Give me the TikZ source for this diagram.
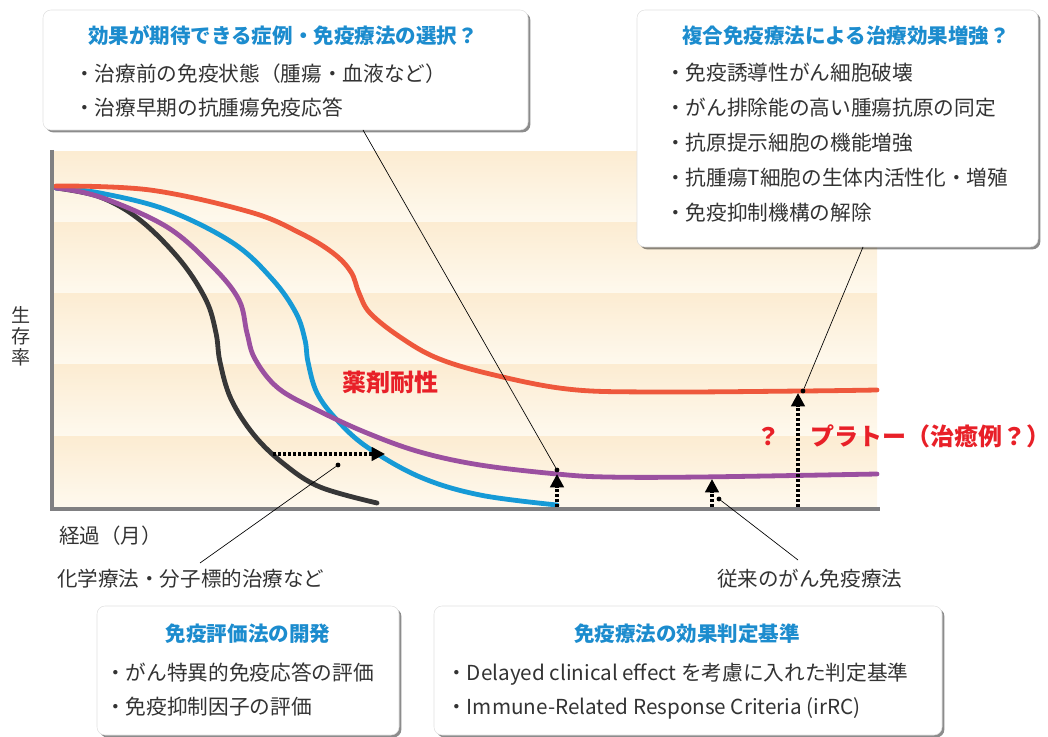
\documentclass[tikz,border=0pt]{standalone}
\usepackage{fontspec}
\setmainfont{Noto Sans CJK JP}
\usetikzlibrary{arrows.meta,shadows}
\definecolor{bandtop}{RGB}{252,236,210}
\definecolor{bandbot}{RGB}{254,249,238}
\definecolor{axisgray}{RGB}{128,128,130}
\definecolor{cred}{RGB}{238,88,60}
\definecolor{cblue}{RGB}{22,154,214}
\definecolor{cpurple}{RGB}{155,80,160}
\definecolor{cblack}{RGB}{55,55,55}
\definecolor{titleblue}{RGB}{28,140,206}
\definecolor{txtred}{RGB}{232,32,40}
\definecolor{txtgray}{RGB}{51,51,51}
\tikzset{
  infobox/.style={draw=black!12, line width=0.4pt, fill=white, rounded corners=6pt,
    drop shadow={shadow xshift=1.8pt, shadow yshift=-1.8pt, fill=black, opacity=0.45},
    inner sep=0pt},
  boxtitle/.style={font=\fontsize{15.4}{18}\selectfont\bfseries, text=titleblue, anchor=base, inner sep=0pt},
  bullet/.style={font=\fontsize{15.5}{18}\selectfont, text=txtgray, anchor=base west, inner sep=0pt},
  plain/.style={font=\fontsize{15.4}{18}\selectfont, text=txtgray, anchor=base west, inner sep=0pt},
  redlabel/.style={font=\fontsize{18}{20}\selectfont\bfseries, text=txtred, inner sep=0pt},
  band/.style={top color=bandtop, bottom color=bandbot, draw=none},
  curve/.style={line width=3.6pt, line cap=round, line join=round},
  axis/.style={line width=3pt, draw=axisgray},
  darrow/.style={line width=2.4pt, dash pattern=on 2.3pt off 1.5pt, -{Triangle[width=10pt,length=10pt]}},
  leader/.style={line width=0.5pt, draw=black},
  dot/.style={circle, fill=black, inner sep=0pt, minimum size=3.6pt}
}
\begin{document}
\begin{tikzpicture}[x=0.75pt,y=-0.75pt]
\useasboundingbox (0,0) rectangle (1048,737);
% background bands
\foreach \ya/\yb in {152/223, 223/294, 294/365, 365/436, 436/508}
  \shade[band] (54,\ya) rectangle (877,\yb);
% curves
\draw[curve, cblack] plot[smooth, tension=0.6] coordinates {(56,188) (100,197) (140,220) (180,260) (206,300) (216,333) (220,362) (231,399) (254,435) (284,464) (320,487) (377,503)};
\draw[curve, cblue] plot[smooth, tension=0.6] coordinates {(56,188) (100,193) (167,210) (233,243) (273,280) (296,313) (305,340) (308,362) (317,393) (337,420) (367,447) (420,477) (480,495) (557,505)};
\draw[curve, cpurple] plot[smooth, tension=0.6] coordinates {(56,188) (100,197) (167,227) (213,267) (239,300) (247,333) (255,359) (278,388) (317,410) (367,433) (420,452) (480,465) (557,474) (607,477) (700,477) (877,474)};
\draw[curve, cred] plot[smooth, tension=0.6] coordinates {(56,186) (150,190) (250,212) (300,233) (333,253) (351,272) (359,293) (370,313) (400,337) (437,358) (490,374) (567,389) (650,392) (803,391) (877,390)};
% axes
\draw[axis] (52,150) -- (52,510.5);
\draw[axis] (50.5,509) -- (880,509);
% labels on axes
\node[font=\fontsize{14.3}{15.8}\selectfont, text=txtgray, align=center, inner sep=0pt] (ylab) at (21,336) {生\\存\\率};
\node[plain] (xlab) at (59,543) {経過（月）};
\node[plain] (chemo) at (57,586) {化学療法・分子標的治療など};
\node[plain] (conv) at (717,586) {従来のがん免疫療法};
% red labels
\node[redlabel, anchor=base] (resist) at (390,392) {薬剤耐性};
\node[redlabel, anchor=base] (qmark) at (768,445) {？};
\node[redlabel, anchor=base west] (plateau) at (810,445) {プラトー（治癒例？）};
% dotted arrows
\coordinate (h0) at (273,454);
\coordinate (h1) at (385,454);
\draw[darrow] (h0) -- (h1);
\coordinate (v1a) at (557,507);
\coordinate (v1b) at (557,474);
\draw[darrow] (v1a) -- (v1b);
\coordinate (v2a) at (712,507);
\coordinate (v2b) at (712,479);
\draw[darrow] (v2a) -- (v2b);
\coordinate (v3a) at (798,507);
\coordinate (v3b) at (798,393);
\draw[darrow] (v3a) -- (v3b);
% dots
\node[dot] (d1) at (338,465) {};
\node[dot] (d2) at (557,470) {};
\node[dot] (d3) at (719,499) {};
\node[dot] (d4) at (803,391) {};
% boxes
\node[infobox, minimum width=363.75pt, minimum height=90pt] (tlbox) at (285.5,70) {};
\node[infobox, minimum width=300.75pt, minimum height=177.75pt] (trbox) at (837.5,128.5) {};
\node[infobox, minimum width=226.5pt, minimum height=96.75pt] (blbox) at (248,670.5) {};
\node[infobox, minimum width=381pt, minimum height=96.75pt] (brbox) at (688,670.5) {};
% leader lines
\coordinate (tlfoot) at (363,130);
\coordinate (trfoot) at (863,247);
\coordinate (chemotop) at (200,563);
\coordinate (convtop) at (798,560);
\draw[leader] (d1) -- (chemotop);
\draw[leader] (d2) -- (tlfoot);
\draw[leader] (d3) -- (convtop);
\draw[leader] (d4) -- (trfoot);
% top-left box text
\node[boxtitle] (tlt) at (283,44) {効果が期待できる症例・免疫療法の選択？};
\node[bullet] (tl1) at (74,82) {・治療前の免疫状態（腫瘍・血液など）};
\node[bullet] (tl2) at (74,116) {・治療早期の抗腫瘍免疫応答};
% top-right box text
\node[boxtitle] (trt) at (846,44) {複合免疫療法による治療効果増強？};
\node[bullet] (tr1) at (665,81) {・免疫誘導性がん細胞破壊};
\node[bullet] (tr2) at (665,116) {・がん排除能の高い腫瘍抗原の同定};
\node[bullet] (tr3) at (665,151) {・抗原提示細胞の機能増強};
\node[bullet] (tr4) at (665,186) {・抗腫瘍T細胞の生体内活性化・増殖};
\node[bullet] (tr5) at (665,221) {・免疫抑制機構の解除};
% bottom-left box text
\node[boxtitle] (blt) at (248,641) {免疫評価法の開発};
\node[bullet] (bl1) at (105,680) {・がん特異的免疫応答の評価};
\node[bullet] (bl2) at (105,714) {・免疫抑制因子の評価};
% bottom-right box text
\node[boxtitle] (brt) at (687,641) {免疫療法の効果判定基準};
\node[bullet] (br1) at (446,680) {・Delayed clinical effect を考慮に入れた判定基準};
\node[bullet] (br2) at (446,714) {・Immune-Related Response Criteria (irRC)};
\end{tikzpicture}
\end{document}
